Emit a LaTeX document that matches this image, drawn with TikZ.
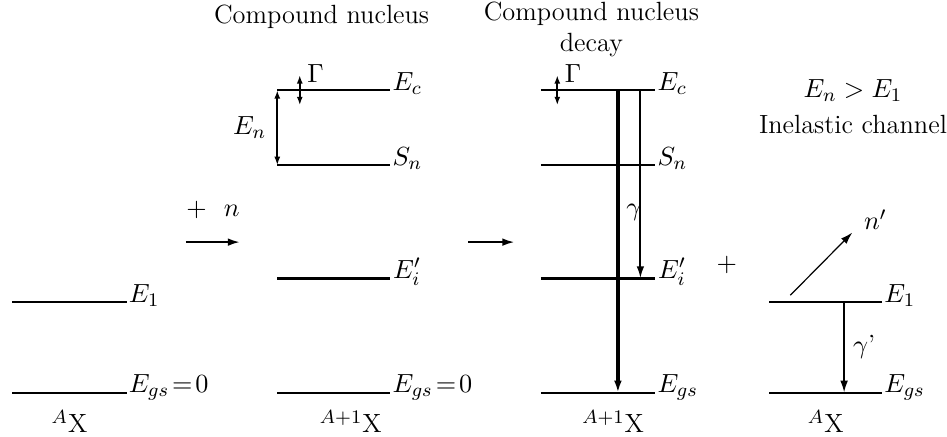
\documentclass[tikz,border=0pt]{standalone}
\usepackage{amsmath}
\usetikzlibrary{arrows.meta,positioning,calc}

\begin{document}
\begin{tikzpicture}[
    font=\fontsize{11}{13}\selectfont,
    >={Latex[length=5pt,width=3.2pt]},
    level/.style={line width=0.8pt},
    boldlevel/.style={line width=1.3pt},
    lvllabel/.style={anchor=base west, inner sep=0.5pt},
    title/.style={align=center, inner sep=1pt},
    trans/.style={->, line width=0.8pt},
    bigtrans/.style={->, line width=1.4pt},
    width/.style={<->, line width=0.7pt, >={Latex[length=3.5pt,width=2.5pt]}}
]
\useasboundingbox (0,0) rectangle (13.9,6.414);

% ==================== TARGET NUCLEUS (A X) ====================
\coordinate (ta1l) at (0.18,1.98);  \coordinate (ta1r) at (1.86,1.98);
\coordinate (tagl) at (0.18,0.65);  \coordinate (tagr) at (1.86,0.65);
\draw[level] (ta1l) -- (ta1r) node[lvllabel] (tae1) {$E_1$};
\draw[level] (tagl) -- (tagr) node[lvllabel] (tags) {$E_{gs}\!=\!0$};
\node (tax) at ($(tagl)!0.5!(tagr)+(0,-0.42)$) {$^{A}$X};

% incoming neutron
\coordinate (na) at (2.73,2.86); \coordinate (nb) at (3.52,2.86);
\draw[trans] (na) -- node[above=6pt] (nlab) {$+$\ \ $n$} (nb);

% ==================== COMPOUND NUCLEUS ====================
\node[title] (cnt) at (4.72,6.17) {Compound nucleus};
\coordinate (cecl) at (4.07,5.09);  \coordinate (cecr) at (5.73,5.09);
\coordinate (csnl) at (4.07,3.99);  \coordinate (csnr) at (5.73,3.99);
\coordinate (ceil) at (4.07,2.33);  \coordinate (ceir) at (5.73,2.33);
\coordinate (cgsl) at (4.07,0.65);  \coordinate (cgsr) at (5.73,0.65);
\draw[level] (cecl) -- (cecr) node[lvllabel] (cec) {$E_c$};
\draw[level] (csnl) -- (csnr) node[lvllabel] (csn) {$S_n$};
\draw[boldlevel] (ceil) -- (ceir) node[lvllabel] (cei) {$E_i'$};
\draw[level] (cgsl) -- (cgsr) node[lvllabel] (cgs) {$E_{gs}\!=\!0$};
\node (cax) at ($(cgsl)!0.5!(cgsr)+(0.25,-0.42)$) {$^{A+1}$X};

% binding energy and width
\draw[width] (cecl) -- node[left=1pt] (cen) {$E_n$} (csnl);
\coordinate (cga) at (4.40,5.31); \coordinate (cgb) at (4.40,4.87);
\draw[width] (cga) -- (cgb);
\node[anchor=base west, inner sep=1pt] (cgam) at (4.47,5.20) {$\Gamma$};

% formation arrow
\coordinate (da) at (6.87,2.86); \coordinate (db) at (7.55,2.86);
\draw[trans] (da) -- (db);

% ==================== COMPOUND NUCLEUS DECAY ====================
\node[title] (dct) at (8.68,5.98) {Compound nucleus\\decay};
\coordinate (decl) at (7.94,5.09);  \coordinate (decr) at (9.62,5.09);
\coordinate (dsnl) at (7.94,3.99);  \coordinate (dsnr) at (9.62,3.99);
\coordinate (deil) at (7.94,2.33);  \coordinate (deir) at (9.62,2.33);
\coordinate (dgsl) at (7.94,0.65);  \coordinate (dgsr) at (9.62,0.65);
\draw[level] (decl) -- (decr) node[lvllabel] (dec) {$E_c$};
\draw[level] (dsnl) -- (dsnr) node[lvllabel] (dsn) {$S_n$};
\draw[boldlevel] (deil) -- (deir) node[lvllabel] (dei) {$E_i'$};
\draw[level] (dgsl) -- (dgsr) node[lvllabel] (dgs) {$E_{gs}$};
\node (dax) at ($(dgsl)!0.5!(dgsr)+(0.22,-0.42)$) {$^{A+1}$X};

% gamma cascade
\coordinate (dgt) at (9.07,5.09); \coordinate (dgb) at (9.07,0.65);
\draw[bigtrans] (dgt) -- (dgb);
\node[right=0pt] (dgam) at (9.07,3.30) {$\gamma$};
\coordinate (dit) at (9.40,5.09); \coordinate (dib) at (9.40,2.33);
\draw[trans] (dit) -- (dib);
\coordinate (dga) at (8.18,5.31); \coordinate (dgc) at (8.18,4.87);
\draw[width] (dga) -- (dgc);
\node[anchor=base west, inner sep=1pt] (dgmm) at (8.25,5.20) {$\Gamma$};

% ==================== INELASTIC CHANNEL ====================
\node (plus) at (10.67,2.52) {$+$};
\node[title] (inc) at (12.52,4.85) {$E_n > E_1$\\[2pt]Inelastic channel};
\coordinate (ie1l) at (11.29,1.98);  \coordinate (ie1r) at (12.95,1.98);
\coordinate (igsl) at (11.29,0.65);  \coordinate (igsr) at (12.95,0.65);
\draw[level] (ie1l) -- (ie1r) node[lvllabel] (ie1) {$E_1$};
\draw[level] (igsl) -- (igsr) node[lvllabel] (igs) {$E_{gs}$};
\node (iax) at ($(igsl)!0.5!(igsr)+(0,-0.42)$) {$^{A}$X};

% outgoing neutron and gamma
\coordinate (noa) at (11.60,2.08); \coordinate (nob) at (12.51,3.00);
\draw[->, line width=0.5pt] (noa) -- (nob);
\node (nout) at (12.85,3.19) {$n'$};
\coordinate (iga) at (12.39,1.98); \coordinate (igb) at (12.39,0.65);
\draw[trans] (iga) -- node[right=0pt] (igam) {$\gamma$'} (igb);

\end{tikzpicture}
\end{document}
